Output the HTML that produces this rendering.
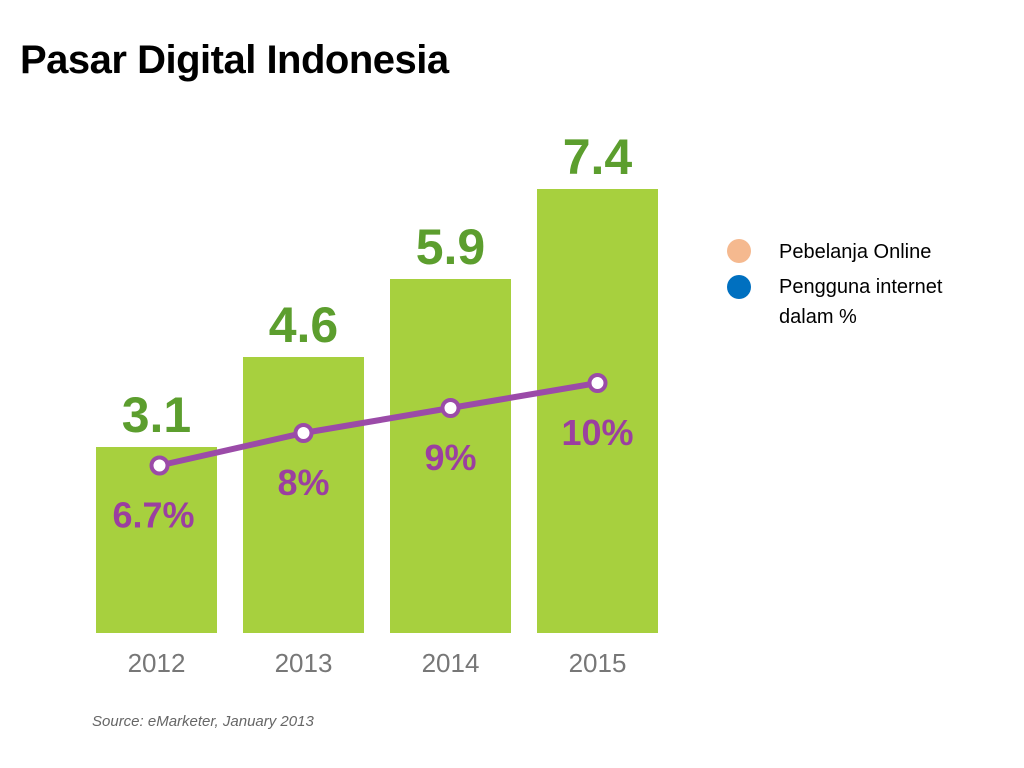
<!DOCTYPE html>
<html><head><meta charset="utf-8"><style>
body{margin:0;width:1024px;height:768px;background:#fff;overflow:hidden;font-family:"Liberation Sans",sans-serif;}
h1{position:absolute;left:20px;top:38px;margin:0;font-size:40px;font-weight:bold;color:#000;letter-spacing:-0.5px}
.leg{position:absolute;left:779px;font-size:20px;color:#000;line-height:30px}
.dot{position:absolute;width:24px;height:24px;border-radius:50%}
</style></head><body>
<h1>Pasar Digital Indonesia</h1>
<div class="dot" style="left:727px;top:239px;background:#f5b98f"></div>
<div class="leg" style="top:237px">Pebelanja Online</div>
<div class="dot" style="left:727px;top:275px;background:#0070c0"></div>
<div class="leg" style="top:272px">Pengguna internet<br>dalam %</div>
<svg id="chart" width="1024" height="768" style="position:absolute;left:0;top:0"></svg>
<script>
const years=["2012","2013","2014","2015"];
const shoppers=[3.1,4.6,5.9,7.4];
const shopperLabels=["3.1","4.6","5.9","7.4"];
const internet=[6.7,8,9,10];
const internetLabels=["6.7%","8%","9%","10%"];
const NS="http://www.w3.org/2000/svg",svg=document.getElementById('chart');
const base=633,barW=121;
const bx=i=>96+i*147;
const by=v=>base-v*60;
const ly=v=>base-v*25;
const lx=i=>bx(i)+barW/2+(i==0?3:0);
function mk(t,a,p){const e=document.createElementNS(NS,t);for(const k in a)e.setAttribute(k,a[k]);(p||svg).appendChild(e);return e;}
years.forEach((y,i)=>{
 const r=mk('rect',{x:bx(i),y:by(shoppers[i]),width:barW,height:base-by(shoppers[i]),fill:'#a7d03e'});
 
 
 const t=mk('text',{x:bx(i)+barW/2,y:by(shoppers[i])-15,'text-anchor':'middle','font-size':'50','font-weight':'bold',fill:'#5c9e2e','font-family':'Liberation Sans, sans-serif'});
 t.textContent=shopperLabels[i];
 
 
 const a=mk('text',{x:bx(i)+barW/2,y:672,'text-anchor':'middle','font-size':'26',fill:'#777'});
 a.textContent=y;
 
 
});
const pts=internet.map((v,i)=>lx(i)+','+ly(v)).join(' ');
const pl=mk('polyline',{points:pts,fill:'none',stroke:'#9b4ba8','stroke-width':6});


const lblPos=[[155,528],[304,495],[451,470],[600,445]];
internet.forEach((v,i)=>{
 const c=mk('circle',{cx:lx(i),cy:ly(v),r:8,fill:'#fff',stroke:'#9b4ba8','stroke-width':4});
 
 
 const t=mk('text',{x:lx(i)+(i==0?-6:0),y:ly(v)+(i==0?62:i==3?62:62),'text-anchor':'middle','font-size':'36','font-weight':'bold',fill:'#9b3fa0'});
 t.textContent=internetLabels[i];
 
 
});
const s=mk('text',{x:92,y:726,'font-size':'15','font-style':'italic',fill:'#666'});
s.textContent='Source: eMarketer, January 2013';


</script>
</body></html>
